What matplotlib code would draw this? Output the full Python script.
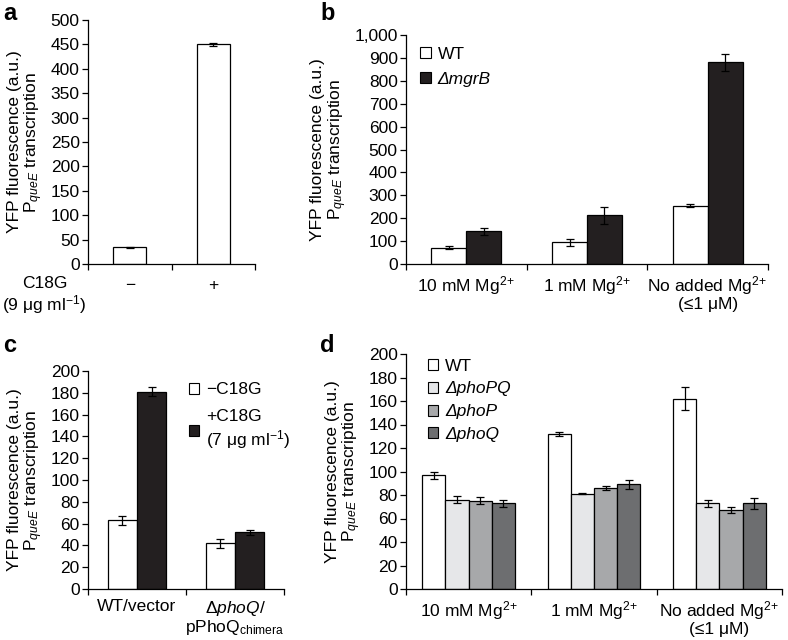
import numpy as np
import matplotlib
matplotlib.use('Agg')
import matplotlib.pyplot as plt
from matplotlib.patches import Patch

plt.rcParams['font.family'] = ['Liberation Sans', 'DejaVu Sans']
plt.rcParams['mathtext.fontset'] = 'custom'
plt.rcParams['mathtext.rm'] = 'Liberation Sans'
plt.rcParams['mathtext.it'] = 'Liberation Sans:italic'
plt.rcParams['font.size'] = 12.5
plt.rcParams['axes.linewidth'] = 0.9

# panel a
a_labels = ['\u2212', '+']
a_vals = [34, 450]
a_err = [1.5, 3]

# panel b
mg_labels = ['10 mM Mg$^{2}$$^{+}$', '1 mM Mg$^{2}$$^{+}$',
             'No added Mg$^{2}$$^{+}$\n(\u22641 \u03bcM)']
b_wt = [72, 95, 255]
b_wt_err = [5, 15, 5]
b_mgrb = [143, 213, 880]
b_mgrb_err = [15, 37, 38]

# panel c
c_labels = ['WT/vector', '$\\mathit{\u0394phoQ}$/\npPhoQ$_{\\mathrm{chimera}}$']
c_minus = [63, 42]
c_minus_err = [4, 4]
c_plus = [181, 52]
c_plus_err = [4, 2]

# panel d
d_names = ['WT', '\u0394phoPQ', '\u0394phoP', '\u0394phoQ']
d_vals = [[97, 132, 162], [76, 81, 73], [75, 86, 67], [73, 89, 73]]
d_err = [[3, 2, 10], [3, 0.5, 3], [3, 2, 2.5], [3, 4, 4.5]]
d_colors = ['white', '#e6e7e9', '#a7a8aa', '#6d6e70']

DARK = '#231f20'
W, H = 788, 640
fig = plt.figure(figsize=(W / 100, H / 100), dpi=100)


def px_axes(l, t, r, b):
    return fig.add_axes([l / W, 1 - b / H, (r - l) / W, (b - t) / H])


def style(ax, n, ymax, ystep, comma=False):
    ax.spines['top'].set_visible(False)
    ax.spines['right'].set_visible(False)
    ax.set_xlim(-0.5, n - 0.5)
    ax.set_ylim(0, ymax)
    yt = np.arange(0, ymax + 1, ystep)
    ax.set_yticks(yt)
    if comma:
        ax.set_yticklabels([f'{v:,}' for v in yt])
    ax.tick_params(axis='y', direction='out', length=4, width=0.9, pad=2)
    ax.set_xticks(np.arange(n))
    ax.tick_params(axis='x', which='major', length=0, pad=7)
    ax.set_xticks(np.arange(n + 1) - 0.5, minor=True)
    ax.tick_params(axis='x', which='minor', direction='out', length=4, width=0.9)
    ax.set_ylabel('YFP fluorescence (a.u.)\nP$_{\\mathit{queE}}$ transcription',
                  linespacing=1.05, labelpad=4)


err_kw = dict(ecolor='black', elinewidth=0.9, capsize=3, capthick=0.9)

# a
ax = px_axes(88, 20, 255, 264)
x = np.arange(2)
ax.bar(x, a_vals, 0.4, color='white', edgecolor='black', linewidth=0.9,
       yerr=a_err, error_kw=err_kw)
style(ax, 2, 500, 50)
ax.set_xticklabels(a_labels)
ax.tick_params(axis='x', which='major', pad=10)
ax.text(-0.26, -0.05, 'C18G\n(9 \u03bcg ml$^{-1}$)', transform=ax.transAxes,
        ha='center', va='top', linespacing=1.1)

# b
ax = px_axes(406, 35, 768, 264)
x = np.arange(3)
w = 0.29
ax.bar(x - w / 2, b_wt, w, color='white', edgecolor='black', linewidth=0.9,
       yerr=b_wt_err, error_kw=err_kw)
ax.bar(x + w / 2, b_mgrb, w, color=DARK, edgecolor='black', linewidth=0.9,
       yerr=b_mgrb_err, error_kw=err_kw)
style(ax, 3, 1000, 100, comma=True)
ax.set_xticklabels(mg_labels, linespacing=1.0)
leg = ax.legend(handles=[Patch(facecolor='white', edgecolor='black', linewidth=0.8),
                         Patch(facecolor=DARK, edgecolor='black', linewidth=0.8)],
                labels=['WT', '\u0394mgrB'], loc='upper left', bbox_to_anchor=(0.02, 0.98),
                frameon=False, handlelength=0.6, handleheight=0.6, handletextpad=0.4,
                labelspacing=0.6, borderaxespad=0)
leg.get_texts()[1].set_fontstyle('italic')

# c
ax = px_axes(88, 371, 284, 589)
x = np.arange(2)
w = 0.3
ax.bar(x - w / 2, c_minus, w, color='white', edgecolor='black', linewidth=0.9,
       yerr=c_minus_err, error_kw=err_kw)
ax.bar(x + w / 2, c_plus, w, color=DARK, edgecolor='black', linewidth=0.9,
       yerr=c_plus_err, error_kw=err_kw)
style(ax, 2, 200, 20)
ax.set_xticklabels(c_labels, linespacing=1.0)
ax.legend(handles=[Patch(facecolor='white', edgecolor='black', linewidth=0.8),
                   Patch(facecolor=DARK, edgecolor='black', linewidth=0.8)],
          labels=['\u2212C18G', '+C18G\n(7 \u03bcg ml$^{-1}$)'], loc='upper left',
          bbox_to_anchor=(0.48, 0.98), frameon=False, handlelength=0.6, handleheight=0.6,
          handletextpad=0.4, labelspacing=0.7, borderaxespad=0)

# d
ax = px_axes(406, 354, 782, 589)
x = np.arange(3)
w = 0.185
for i in range(4):
    ax.bar(x + (i - 1.5) * w, d_vals[i], w, color=d_colors[i], edgecolor='black',
           linewidth=0.9, yerr=d_err[i], error_kw=err_kw)
style(ax, 3, 200, 20)
ax.set_xticklabels(mg_labels, linespacing=1.0)
leg = ax.legend(handles=[Patch(facecolor=c, edgecolor='black', linewidth=0.8) for c in d_colors],
                labels=d_names, loc='upper left', bbox_to_anchor=(0.04, 1.01),
                frameon=False, handlelength=0.6, handleheight=0.6, handletextpad=0.4,
                labelspacing=0.45, borderaxespad=0)
for t in leg.get_texts()[1:]:
    t.set_fontstyle('italic')

for lab, (px, py) in zip('abcd', [(3, 14), (320, 14), (3, 345), (320, 345)]):
    fig.text(px / W, 1 - py / H, lab, fontsize=17, fontweight='bold', va='center')

fig.savefig('out.png', dpi=100)
